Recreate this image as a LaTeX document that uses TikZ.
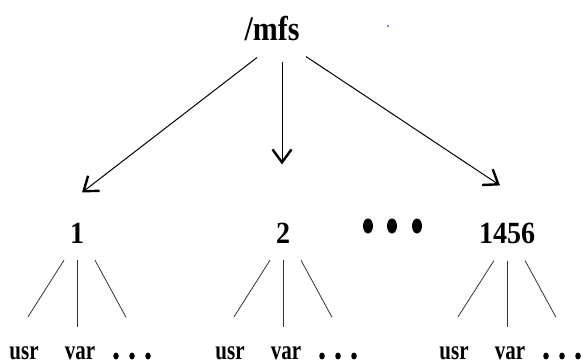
\documentclass[tikz,border=0pt]{standalone}
\usepackage{fontspec}
\usepackage{graphicx}
\setmainfont{Liberation Serif}
\usetikzlibrary{arrows.meta,calc,shapes.geometric}
\newcommand{\tall}[2]{\scalebox{1}[#1]{#2}}
\begin{document}
\begin{tikzpicture}[x=1pt,y=-1pt,
  lbl/.style={inner sep=0pt, anchor=base},
  rootlbl/.style={lbl, font=\fontsize{30}{30}\selectfont\bfseries},
  dirlbl/.style={lbl, font=\fontsize{28}{28}\selectfont\bfseries},
  leaflbl/.style={lbl, font=\fontsize{21}{21}\selectfont\bfseries},
  arr/.style={line width=1pt, -{Straight Barb[line width'=2.4pt, length=13pt, width=19pt]}},
  branch/.style={line width=0.8pt, draw=black!80},
  bigdot/.style={ellipse, fill, inner sep=0pt, minimum width=10pt, minimum height=15pt},
  smalldot/.style={ellipse, fill, inner sep=0pt, minimum width=5.5pt, minimum height=7pt}]
\useasboundingbox (0,0) rectangle (584,364);

% root and first-level directories
\node[rootlbl] (mfs) at (272,40) {\tall{1.15}{/mfs}};
\node[dirlbl] (n1) at (77,243) {\tall{1.1}{1}};
\node[dirlbl] (n2) at (283,243) {\tall{1.1}{2}};
\node[dirlbl] (n3) at (507,243) {\tall{1.1}{1456}};

% ellipsis between directories
\node[bigdot] (e1) at (368,226) {};
\node[bigdot] (e2) at (392,226) {};
\node[bigdot] (e3) at (417,226) {};

% stray blue speck
\node[circle, fill=blue!80, inner sep=0pt, minimum size=2pt] (speck) at (388,26) {};

% arrows from the root
\draw[arr] ($(mfs.south)+(-15,17)$) -- ($(n1.north)+(5,-30)$);
\draw[arr] ($(mfs.south)+(10,21)$) -- ($(n2.north)+(-1,-58)$);
\draw[arr] ($(mfs.south)+(34,16)$) -- ($(n3.north)+(-7,-37)$);

% second level under each directory
\foreach \p/\x in {n1/77, n2/283, n3/507} {
  \node[leaflbl] (\p-usr) at (\x-53,359) {\tall{1.3}{usr}};
  \node[leaflbl] (\p-var) at (\x+3,359) {\tall{1.3}{var}};
  \node[smalldot] (\p-d1) at (\x+39,356) {};
  \node[smalldot] (\p-d2) at (\x+55,356) {};
  \node[smalldot] (\p-d3) at (\x+71,356) {};
  \draw[branch] ($(\p.south)+(-13,17)$) -- ($(\p-usr.north)+(4,-29)$);
  \draw[branch] ($(\p.south)+(0,17)$) -- ($(\p-var.north)+(-3,-19)$);
  \draw[branch] ($(\p.south)+(18,17)$) -- ($(\p-d2.north)+(-6,-35)$);
}
\end{tikzpicture}
\end{document}
